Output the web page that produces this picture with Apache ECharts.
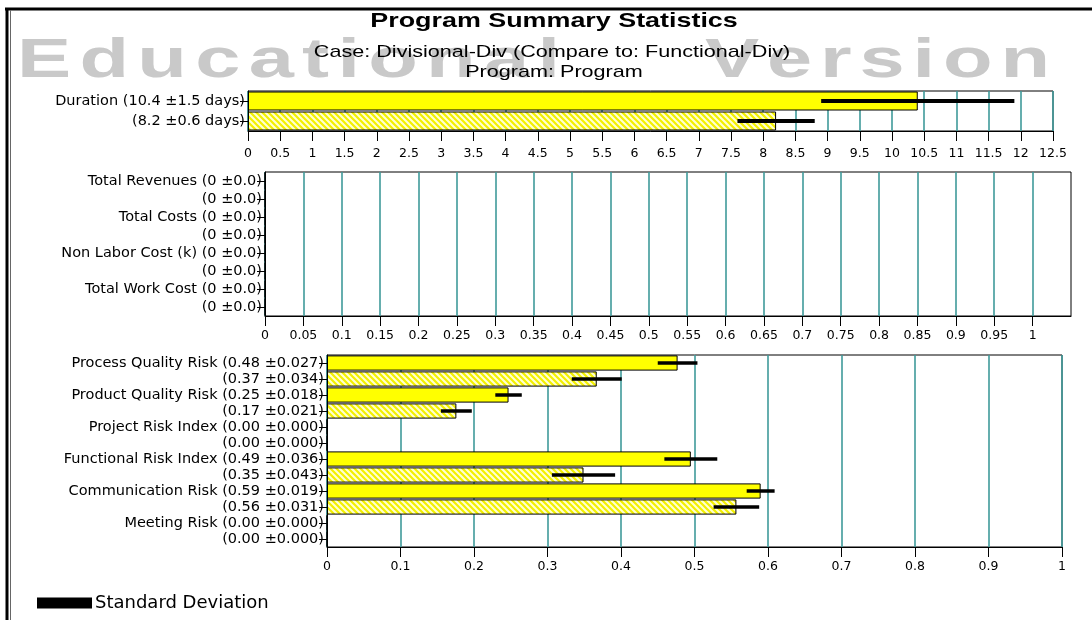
<!DOCTYPE html>
<html>
<head>
<meta charset="utf-8">
<title>Program Summary Statistics</title>
<script src="https://cdn.jsdelivr.net/npm/echarts@6/dist/echarts.min.js"></script>
<style>
  html, body { margin: 0; padding: 0; background: #fff; }
  #chart { width: 1092px; height: 620px; }
</style>
</head>
<body>
<div id="chart"></div>
<script>
// duration panel
const durationLabels = ['Duration (10.4 ±1.5 days)', '(8.2 ±0.6 days)'];
const durationMeans = [10.4, 8.2];
const durationSd = [1.5, 0.6];
const durationTicks = [0, 0.5, 1, 1.5, 2, 2.5, 3, 3.5, 4, 4.5, 5, 5.5, 6, 6.5, 7, 7.5, 8, 8.5, 9, 9.5, 10, 10.5, 11, 11.5, 12, 12.5];

// cost panel (all zero)
const costLabels = ['Total Revenues (0 ±0.0)', '(0 ±0.0)', 'Total Costs (0 ±0.0)', '(0 ±0.0)',
  'Non Labor Cost (k) (0 ±0.0)', '(0 ±0.0)', 'Total Work Cost (0 ±0.0)', '(0 ±0.0)'];
const costMeans = [0, 0, 0, 0, 0, 0, 0, 0];
const costSd = [0, 0, 0, 0, 0, 0, 0, 0];
const costTicks = [0, 0.05, 0.1, 0.15, 0.2, 0.25, 0.3, 0.35, 0.4, 0.45, 0.5, 0.55, 0.6, 0.65, 0.7, 0.75, 0.8, 0.85, 0.9, 0.95, 1];

// risk panel
const riskLabels = ['Process Quality Risk (0.48 ±0.027)', '(0.37 ±0.034)', 'Product Quality Risk (0.25 ±0.018)', '(0.17 ±0.021)',
  'Project Risk Index (0.00 ±0.000)', '(0.00 ±0.000)', 'Functional Risk Index (0.49 ±0.036)', '(0.35 ±0.043)',
  'Communication Risk (0.59 ±0.019)', '(0.56 ±0.031)', 'Meeting Risk (0.00 ±0.000)', '(0.00 ±0.000)'];
const riskMeans = [0.477, 0.367, 0.247, 0.176, 0, 0, 0.495, 0.349, 0.590, 0.557, 0, 0];
const riskSd = [0.027, 0.034, 0.018, 0.021, 0, 0, 0.036, 0.043, 0.019, 0.031, 0, 0];
const riskTicks = [0, 0.1, 0.2, 0.3, 0.4, 0.5, 0.6, 0.7, 0.8, 0.9, 1];

const FONT = 'DejaVu Sans';
const TEAL = '#3f9a9a';
const YELLOW = '#ffff00';
const WM_FONT = 'bold 56px "Liberation Sans"';
const WM_SCALE = 1.45;

// diagonal yellow hatch for the "compare to" bars
function makeHatch() {
  const c = document.createElement('canvas');
  c.width = 6;
  c.height = 6;
  const ctx = c.getContext('2d');
  ctx.fillStyle = '#ffffd2';
  ctx.fillRect(0, 0, 6, 6);
  ctx.strokeStyle = '#f3f000';
  ctx.lineWidth = 2.2;
  ctx.beginPath();
  ctx.moveTo(-1, -1); ctx.lineTo(7, 7);
  ctx.moveTo(-1, 5); ctx.lineTo(1, 7);
  ctx.moveTo(5, -1); ctx.lineTo(7, 1);
  ctx.stroke();
  return { image: c, repeat: 'repeat' };
}
const hatch = makeHatch();

// watermark word with wide letter spacing, spread between left and right
function spacedWord(word, left, right, y) {
  const ctx = document.createElement('canvas').getContext('2d');
  ctx.font = WM_FONT;
  const chars = word.split('');
  const widths = chars.map(ch => ctx.measureText(ch).width * WM_SCALE);
  const total = widths.reduce((a, b) => a + b, 0);
  const gap = (right - left - total) / (chars.length - 1);
  let x = left;
  return chars.map((ch, i) => {
    const el = {
      type: 'text', x, y, scaleX: WM_SCALE, z: 0, silent: true,
      style: { text: ch, font: WM_FONT, fill: '#c9c9c9', textAlign: 'left', textVerticalAlign: 'middle' },
    };
    x += widths[i] + gap;
    return el;
  });
}

function gridBox(left, top, width, height) {
  return { left, top, width, height, show: true, borderColor: '#000', borderWidth: 1, backgroundColor: '#fff' };
}

function xAxisFor(idx, max, interval, ticks, margin) {
  return {
    type: 'value', gridIndex: idx, min: 0, max, interval,
    axisLine: { show: true, lineStyle: { color: '#000' } },
    axisTick: { show: true, length: 10, lineStyle: { color: '#000' }, customValues: ticks },
    axisLabel: { color: '#000', fontFamily: FONT, fontSize: 12.5, margin, customValues: ticks },
    splitLine: { show: true, lineStyle: { color: TEAL, width: 1.6 } },
  };
}

function yAxisFor(idx, labels) {
  return {
    type: 'category', gridIndex: idx, data: labels, inverse: true,
    axisLine: { show: true, lineStyle: { color: '#000' } },
    axisTick: { show: true, alignWithLabel: true, length: 8, lineStyle: { color: '#000' } },
    axisLabel: { color: '#000', fontFamily: FONT, fontSize: 14.5, margin: 3, interval: 0 },
    splitLine: { show: false },
  };
}

function barSeries(idx, means) {
  return {
    type: 'bar', xAxisIndex: idx, yAxisIndex: idx, silent: true,
    barCategoryGap: '5%',
    data: means.map((v, i) => ({ value: v, itemStyle: { color: i % 2 ? hatch : YELLOW } })),
    itemStyle: { borderColor: '#000', borderWidth: 1 },
    z: 3,
  };
}

function errorSeries(idx, means, sds, lw) {
  return {
    type: 'custom', name: 'Standard Deviation', xAxisIndex: idx, yAxisIndex: idx, silent: true,
    itemStyle: { color: '#000' },
    data: means.map((m, i) => [m - sds[i], m + sds[i], i]),
    encode: { x: [0, 1], y: 2 },
    renderItem(params, api) {
      const lo = api.value(0);
      const hi = api.value(1);
      if (hi - lo <= 0) return null;
      const a = api.coord([lo, api.value(2)]);
      const b = api.coord([hi, api.value(2)]);
      return {
        type: 'line',
        shape: { x1: a[0], y1: a[1], x2: b[0], y2: b[1] },
        style: { stroke: '#000', lineWidth: lw },
      };
    },
    z: 5,
  };
}

const chart = echarts.init(document.getElementById('chart'));
chart.setOption({
  backgroundColor: '#fff',
  animation: false,
  grid: [
    gridBox(248, 91, 805, 40),
    gridBox(265, 172, 806, 144),
    gridBox(327, 355, 735, 192),
  ],
  xAxis: [
    xAxisFor(0, 12.5, 0.5, durationTicks, 16),
    xAxisFor(1, 1.05, 0.05, costTicks, 13),
    xAxisFor(2, 1, 0.1, riskTicks, 13),
  ],
  yAxis: [
    yAxisFor(0, durationLabels),
    yAxisFor(1, costLabels),
    yAxisFor(2, riskLabels),
  ],
  legend: {
    left: 37, top: 594, padding: 0,
    itemWidth: 55, itemHeight: 11, itemGap: 10,
    selectedMode: false,
    data: [{ name: 'Standard Deviation', icon: 'rect', itemStyle: { color: '#000' } }],
    textStyle: { color: '#000', fontFamily: FONT, fontSize: 18, padding: [0, 0, 0, -2] },
  },
  series: [
    barSeries(0, durationMeans),
    errorSeries(0, durationMeans, durationSd, 4),
    barSeries(1, costMeans),
    errorSeries(1, costMeans, costSd, 3),
    barSeries(2, riskMeans),
    errorSeries(2, riskMeans, riskSd, 3.5),
  ],
  graphic: [
    // watermark
    ...spacedWord('Educational', 17, 560, 62),
    ...spacedWord('Version', 705, 1050, 62),
    // titles
    { type: 'text', x: 554, y: 21, scaleX: 1.28, z: 10, silent: true,
      style: { text: 'Program Summary Statistics', font: 'bold 21px "Liberation Sans"', fill: '#000', textAlign: 'center', textVerticalAlign: 'middle' } },
    { type: 'text', x: 552, y: 52, scaleX: 1.27, z: 10, silent: true,
      style: { text: 'Case: Divisional-Div (Compare to: Functional-Div)', font: '17px "Liberation Sans"', fill: '#000', textAlign: 'center', textVerticalAlign: 'middle' } },
    { type: 'text', x: 554, y: 72, scaleX: 1.27, z: 10, silent: true,
      style: { text: 'Program: Program', font: '17px "Liberation Sans"', fill: '#000', textAlign: 'center', textVerticalAlign: 'middle' } },
    // outer frame
    { type: 'line', z: 10, silent: true, shape: { x1: 5, y1: 9, x2: 1092, y2: 9 }, style: { stroke: '#000', lineWidth: 3 } },
    { type: 'line', z: 10, silent: true, shape: { x1: 7, y1: 8, x2: 7, y2: 620 }, style: { stroke: '#000', lineWidth: 3 } },
    { type: 'line', z: 10, silent: true, shape: { x1: 10.5, y1: 10, x2: 10.5, y2: 620 }, style: { stroke: '#666', lineWidth: 1 } },
  ],
});
</script>
</body>
</html>
